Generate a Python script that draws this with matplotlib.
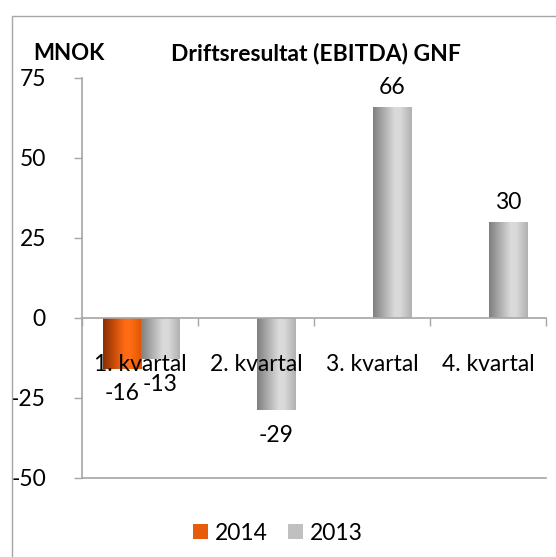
import numpy as np
import matplotlib
matplotlib.use("Agg")
import matplotlib.pyplot as plt
from matplotlib.colors import LinearSegmentedColormap
from matplotlib.patches import Rectangle

categories = ["1. kvartal", "2. kvartal", "3. kvartal", "4. kvartal"]
values_2014 = [-16, np.nan, np.nan, np.nan]
values_2013 = [-13, -29, 66, 30]
series_names = ["2014", "2013"]
yticks = [-50, -25, 0, 25, 50, 75]

plt.rcParams['font.family'] = ['Lato', 'DejaVu Sans']
FS = 16.5

fig = plt.figure(figsize=(5.56, 5.57), dpi=100)
W, H = 556, 557
ax = fig.add_axes([82 / W, 1 - 477.7 / H, (546 - 82) / W, (477.7 - 77.7) / H])

# outer frame
fig.patches.append(Rectangle((12 / W, -0.1), 1.2, 1 - 15.7 / H + 0.1, transform=fig.transFigure,
                             fill=False, edgecolor='#A6A6A6', linewidth=1.0))

x = np.arange(len(categories))
bw = 0.33
b14 = ax.bar(x - 0.155, values_2014, bw, color='#E65C0A', label=series_names[0], zorder=1)
b13 = ax.bar(x + 0.175, values_2013, bw, color='#C0C0C0', label=series_names[1], zorder=1)

gray_cmap = LinearSegmentedColormap.from_list('g', [(0, '#7F7F7F'), (0.55, '#D9D9D9'), (0.7, '#DADADA'), (1, '#B0B0B0')])
orange_cmap = LinearSegmentedColormap.from_list('o', [(0, '#8A2E02'), (0.55, '#FF6A12'), (0.7, '#FF6D14'), (1, '#E05500')])
grad = np.linspace(0, 1, 256).reshape(1, -1)
for bars, cmap in ((b14, orange_cmap), (b13, gray_cmap)):
    for p in bars:
        h = p.get_height()
        if not np.isfinite(h):
            continue
        x0, y0, w = p.get_x(), p.get_y(), p.get_width()
        p.set_facecolor('none')
        p.set_edgecolor('none')
        im = ax.imshow(grad, cmap=cmap, aspect='auto', extent=[x0, x0 + w, min(y0, y0 + h), max(y0, y0 + h)],
                       zorder=1.2, interpolation='bicubic')
        im.set_clip_path(p)

ax.set_axisbelow(False)

# data labels
for bars, vals in ((b14, values_2014), (b13, values_2013)):
    for p, v in zip(bars, vals):
        if not np.isfinite(v):
            continue
        cx = p.get_x() + p.get_width() / 2
        off = 14 if v > 0 else -18
        ax.annotate(f"{v:.0f}", (cx, v), xytext=(0, off), textcoords='offset points',
                    ha='center', va='center', fontsize=FS, color='black', zorder=5)

ax.set_xlim(-0.5, len(categories) - 0.5)
ax.set_ylim(-50, 75)
ax.set_yticks(yticks)
ax.set_yticklabels([str(t) for t in yticks], fontsize=FS)
ax.tick_params(axis='y', length=6, color='#A6A6A6', width=1, pad=20)

ax.spines['bottom'].set_position(('data', 0))
for s in ['top', 'right']:
    ax.spines[s].set_visible(False)
for s in ['left', 'bottom']:
    ax.spines[s].set_color('#A6A6A6')
    ax.spines[s].set_linewidth(1.2)
ax.axhline(-50, color='#A6A6A6', linewidth=1.2, clip_on=False, zorder=1)

ax.set_xticks(np.arange(len(categories) + 1) - 0.5)
ax.set_xticklabels([])
ax.tick_params(axis='x', which='major', length=6, color='#A6A6A6', width=1)
ax.set_xticks(x, minor=True)
ax.set_xticklabels(categories, minor=True, fontsize=FS)
ax.tick_params(axis='x', which='minor', length=0, pad=26)

fig.text(316 / W, 1 - 53 / H, "Driftsresultat (EBITDA) GNF", ha='center', va='center',
         fontsize=16.5, fontweight='bold')
fig.text(33 / W, 1 - 53 / H, "MNOK", ha='left', va='center', fontsize=16, fontweight='bold')

leg = fig.legend(handles=[b14, b13], labels=series_names, loc='center', bbox_to_anchor=(0.5, 1 - 533 / H),
                 ncol=2, frameon=False, fontsize=FS, handlelength=0.65, handleheight=0.65,
                 handletextpad=0.3, columnspacing=0.9)
leg.legend_handles[0].set_facecolor('#E65C0A')
leg.legend_handles[1].set_facecolor('#C0C0C0')

fig.savefig("out.png", dpi=100)
